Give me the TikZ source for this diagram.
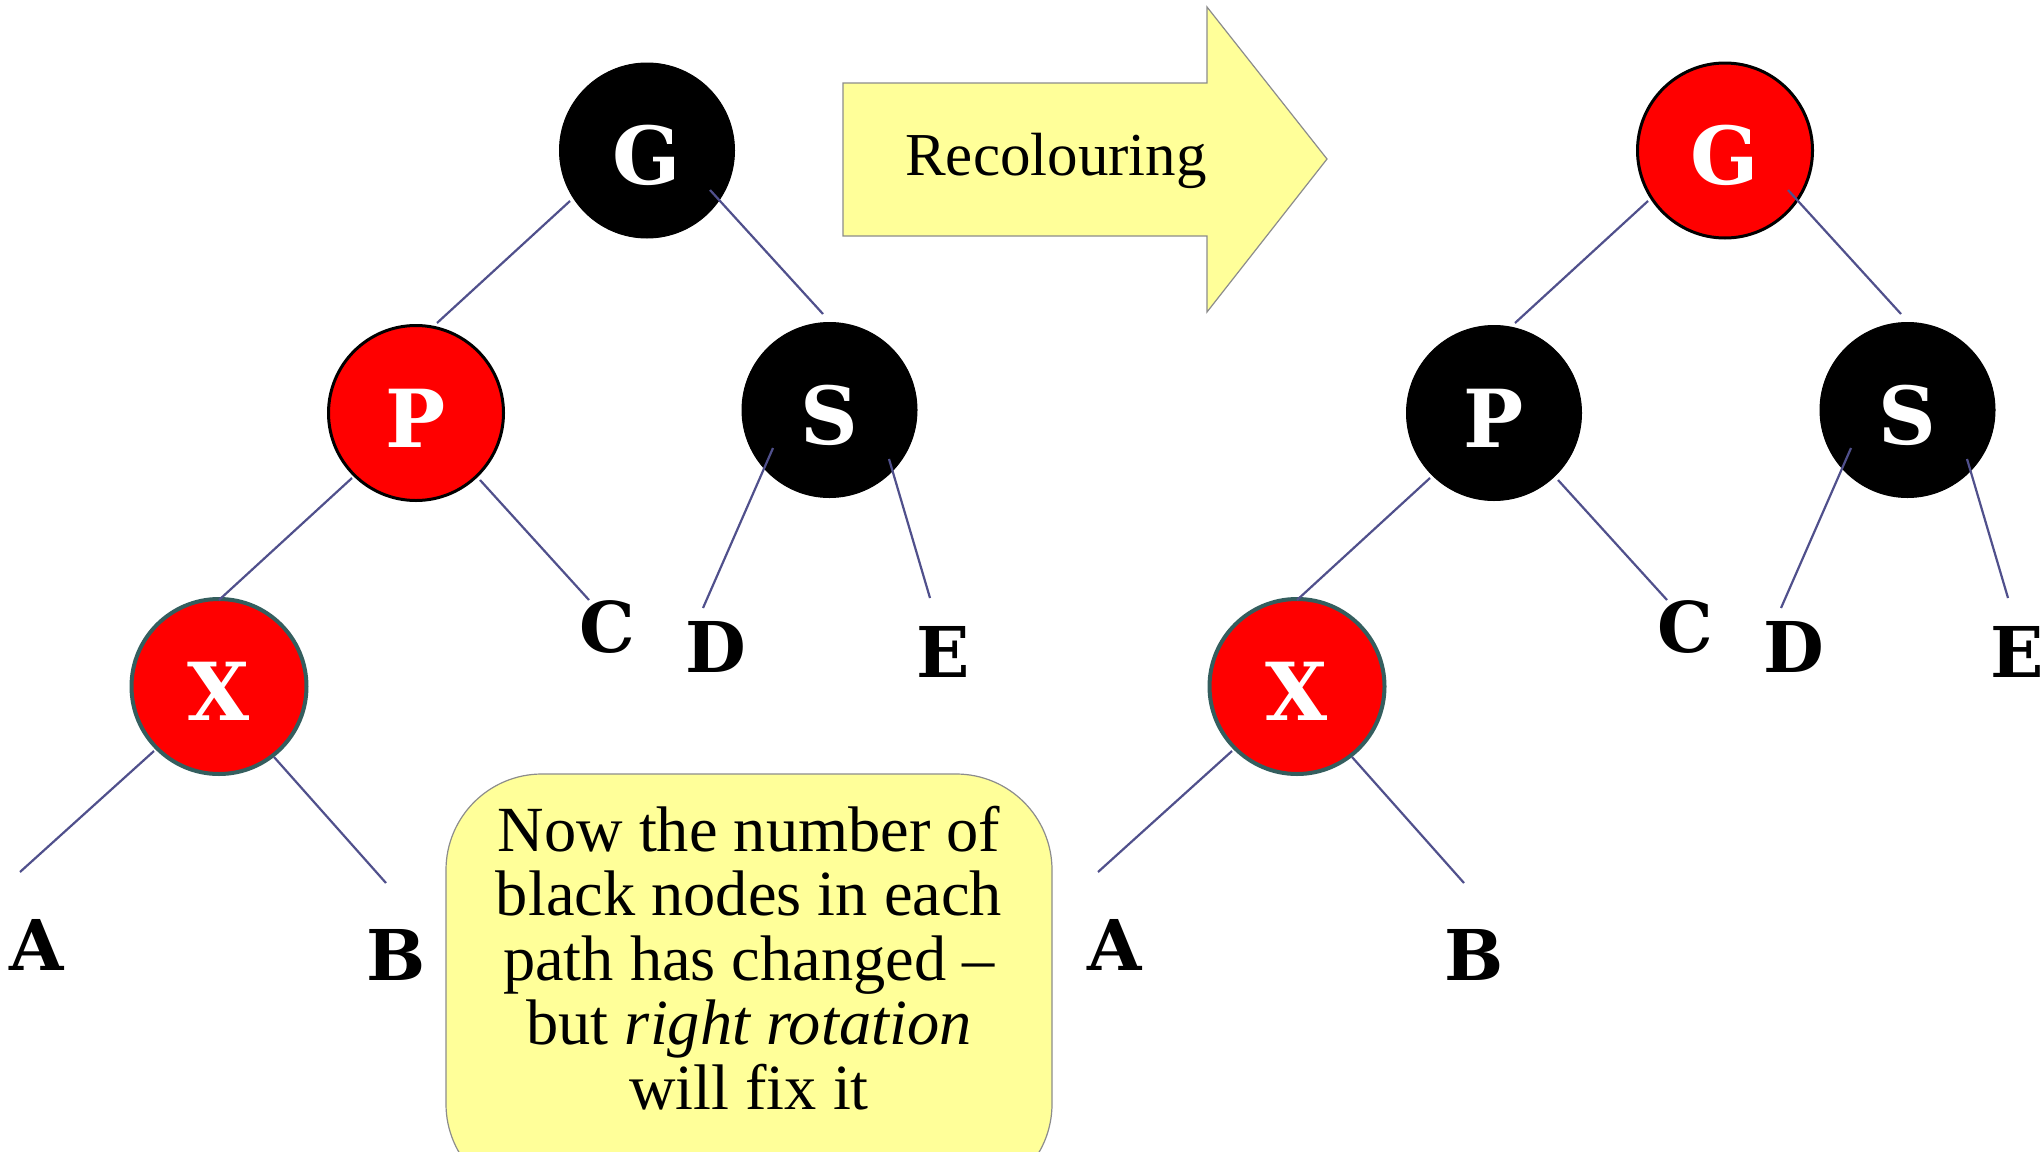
\documentclass[tikz,border=0pt]{standalone}
\usepackage{fontspec}
\setmainfont{Liberation Serif}
\newfontfamily\ltrfont{DejaVu Serif}
\definecolor{edgecol}{RGB}{80,80,140}
\definecolor{xborder}{RGB}{52,94,94}
\definecolor{yell}{RGB}{255,255,153}
\definecolor{outl}{RGB}{140,140,140}
\begin{document}
\begin{tikzpicture}[x=0.5pt,y=-0.5pt,
  treenode/.style={circle, minimum size=87.5pt, inner sep=0pt, text=white,
    text height=34pt, text depth=0pt,
    font=\ltrfont\bfseries\fontsize{40}{40}\selectfont},
  blacknode/.style={treenode, fill=black, draw=black, line width=0.5pt},
  rednode/.style={treenode, fill=red, draw=black, line width=1.5pt},
  rednodex/.style={treenode, fill=red, draw=xborder, line width=2pt},
  leaf/.style={inner sep=0pt, font=\ltrfont\bfseries\fontsize{35}{35}\selectfont},
  edge/.style={draw=edgecol, line width=1.1pt},
  yshape/.style={fill=yell, draw=outl, line width=0.6pt}
]
\path[clip] (0,0) rectangle (2044,1151);
\useasboundingbox (0,0) rectangle (2044,1151);
\fill[white] (0,0) rectangle (2044,1151);

% ---------- left tree ----------
\node[blacknode] (G) at (647,150.5) {G};
\node[rednode] (P) at (416,413) {P};
\node[blacknode] (S) at (829.5,410) {S};
\node[rednodex] (X) at (219,686.5) {X};
\node[leaf] (C) at (607,627) {C};
\node[leaf] (D) at (716,647) {D};
\node[leaf] (E) at (943,652) {E};
\node[leaf] (A) at (37,945) {A};
\node[leaf] (B) at (396,955) {B};

\draw[edge] ([shift={(-77,50.5)}]G.center) -- ([shift={(21,-90)}]P.center);
\draw[edge] ([shift={(63,39.5)}]G.center) -- ([shift={(-6.5,-96)}]S.center);
\draw[edge] ([shift={(-64,65)}]P.center) -- ([shift={(0,-86.5)}]X.center);
\draw[edge] ([shift={(64,67)}]P.center) -- ([shift={(-18,-27)}]C.center);
\draw[edge] ([shift={(-56.5,38)}]S.center) -- ([shift={(-13,-39)}]D.center);
\draw[edge] ([shift={(59.5,49)}]S.center) -- ([shift={(-13,-54)}]E.center);
\draw[edge] ([shift={(-65,64.5)}]X.center) -- ([shift={(-17,-73)}]A.center);
\draw[edge] ([shift={(55,70.5)}]X.center) -- ([shift={(-10,-72)}]B.center);

% ---------- right tree ----------
\node[rednode] (G2) at (1725,150.5) {G};
\node[blacknode] (P2) at (1494,413) {P};
\node[blacknode] (S2) at (1907.5,410) {S};
\node[rednodex] (X2) at (1297,686.5) {X};
\node[leaf] (C2) at (1685,627) {C};
\node[leaf] (D2) at (1794,647) {D};
\node[leaf] (E2) at (2017,652) {E};
\node[leaf] (A2) at (1115,945) {A};
\node[leaf] (B2) at (1474,955) {B};

\draw[edge] ([shift={(-77,50.5)}]G2.center) -- ([shift={(21,-90)}]P2.center);
\draw[edge] ([shift={(63,39.5)}]G2.center) -- ([shift={(-6.5,-96)}]S2.center);
\draw[edge] ([shift={(-64,65)}]P2.center) -- ([shift={(0,-86.5)}]X2.center);
\draw[edge] ([shift={(64,67)}]P2.center) -- ([shift={(-18,-27)}]C2.center);
\draw[edge] ([shift={(-56.5,38)}]S2.center) -- ([shift={(-13,-39)}]D2.center);
\draw[edge] ([shift={(59.5,49)}]S2.center) -- ([shift={(-9,-54)}]E2.center);
\draw[edge] ([shift={(-65,64.5)}]X2.center) -- ([shift={(-17,-73)}]A2.center);
\draw[edge] ([shift={(55,70.5)}]X2.center) -- ([shift={(-10,-72)}]B2.center);

% ---------- arrow ----------
\draw[yshape] (843,83) -- (1207,83) -- (1207,7) -- (1327,159) -- (1207,312)
  -- (1207,236) -- (843,236) -- cycle;
\node[anchor=base, inner sep=0pt, font=\fontsize{30.5}{30.5}\selectfont]
  (recol) at (1056,175) {Recolouring};

% ---------- note box ----------
\draw[yshape, rounded corners=48pt] (446,774) rectangle (1052,1200);
\node[inner sep=0pt, align=center,
  font=\fontsize{32.2}{32.2}\selectfont] (note) at (749,958)
  {Now the number of\\black nodes in each\\path has changed --\\but \textit{right rotation}\\will fix it};
\end{tikzpicture}
\end{document}
